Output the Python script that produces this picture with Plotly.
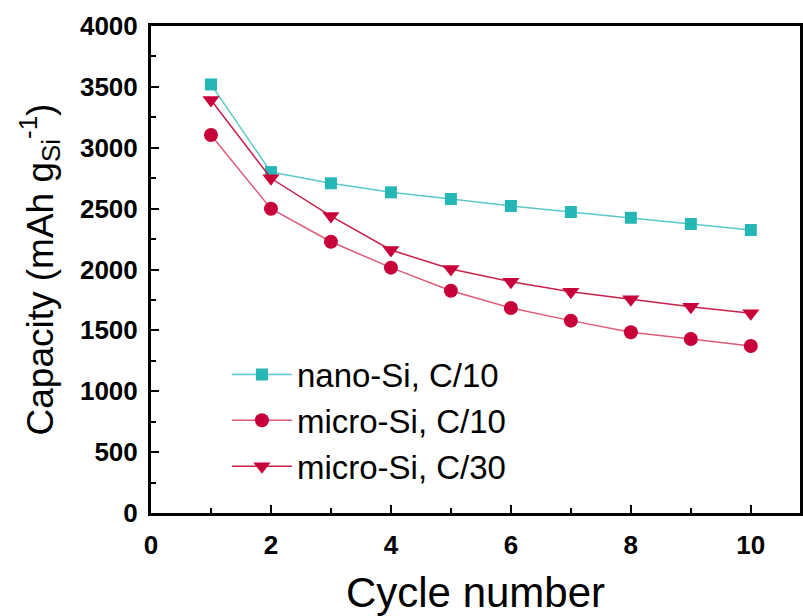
import plotly.graph_objects as go

cycles = [1, 2, 3, 4, 5, 6, 7, 8, 9, 10]
nano_c10 = [3520, 2800, 2708, 2634, 2579, 2522, 2472, 2425, 2374, 2324]
micro_c10 = [3105, 2499, 2228, 2015, 1826, 1684, 1580, 1484, 1429, 1372]
micro_c30 = [3392, 2749, 2439, 2160, 2004, 1900, 1818, 1755, 1694, 1640]

names = ["nano-Si, C/10", "micro-Si, C/10", "micro-Si, C/30"]
teal = "#26B6B6"
crimson = "#C8003A"

fig = go.Figure()
fig.add_trace(go.Scatter(x=cycles, y=nano_c10, name=names[0], mode="lines+markers",
                         line=dict(color="#5CC8C8", width=1.5),
                         marker=dict(symbol="square", size=12, color=teal)))
fig.add_trace(go.Scatter(x=cycles, y=micro_c10, name=names[1], mode="lines+markers",
                         line=dict(color="#DE5A78", width=1.5),
                         marker=dict(symbol="circle", size=14, color=crimson)))
fig.add_trace(go.Scatter(x=cycles, y=micro_c30, name=names[2], mode="lines+markers",
                         line=dict(color="#C8204A", width=1.5),
                         marker=dict(symbol="triangle-down", size=15, color=crimson)))

fam = "Liberation Sans, Arial"
fig.update_layout(
    width=803, height=616,
    margin=dict(l=151, r=0, t=26, b=103),
    plot_bgcolor="white", paper_bgcolor="white",
    font=dict(family=fam, color="black"),
    legend=dict(x=0.117, y=0.342, xanchor="left", yanchor="top",
                font=dict(size=33, family=fam),
                bgcolor="rgba(0,0,0,0)", itemwidth=60, tracegroupgap=0),
    xaxis=dict(range=[0, 10.82], tickvals=[0, 2, 4, 6, 8, 10],
               ticks="inside", ticklen=8, tickwidth=2, tickcolor="black",
               minor=dict(dtick=1, ticks="inside", ticklen=5, tickwidth=2, tickcolor="black"),
               showline=True, linewidth=3, linecolor="black", mirror=True,
               showgrid=False, zeroline=False,
               tickfont=dict(family=fam, size=26, color="black", weight="bold"),
               ticklabelstandoff=7,
               title=dict(text="Cycle number", font=dict(size=42), standoff=22)),
    yaxis=dict(range=[0, 4000], tickvals=[0, 500, 1000, 1500, 2000, 2500, 3000, 3500, 4000],
               ticks="inside", ticklen=8, tickwidth=2, tickcolor="black",
               minor=dict(dtick=250, ticks="inside", ticklen=5, tickwidth=2, tickcolor="black"),
               showline=True, linewidth=3, linecolor="black", mirror=True,
               showgrid=False, zeroline=False,
               tickfont=dict(family=fam, size=26, color="black", weight="bold"),
               ticklabelstandoff=5,
               title=dict(text="Capacity (mAh g<sub>Si</sub><sup>-1</sup>)", font=dict(size=37), standoff=16)),
)

fig.write_html("out.html")
